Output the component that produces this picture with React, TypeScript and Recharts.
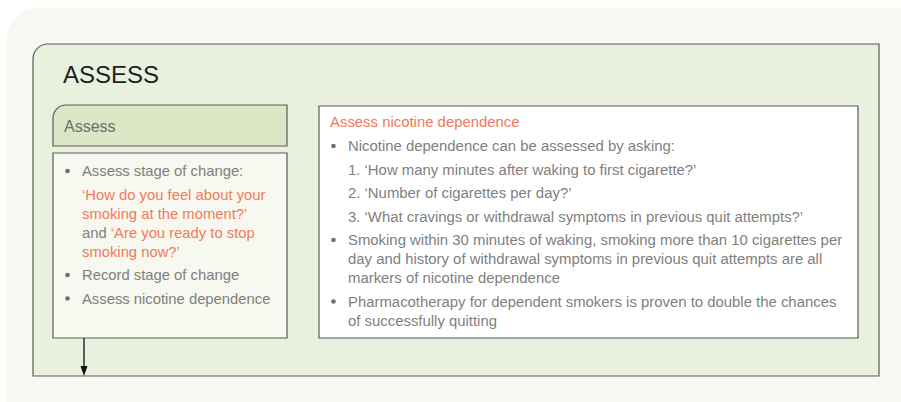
import { ComposedChart, XAxis, YAxis, Scatter, ReferenceArea } from "recharts";

const W = 901;
const H = 402;
const GREY = "#7f7f7f";
const RED = "#f4785c";
const FONT = "'Liberation Sans', Arial, sans-serif";

type Part = [string, "g" | "r"];
interface TextLine {
  parts: Part[];
  bullet?: boolean;
  gap?: boolean;
}

const title = "ASSESS";
const stepLabel = "Assess";

const stepLines: TextLine[] = [
  { bullet: true, parts: [["Assess stage of change:", "g"]] },
  { gap: true, parts: [["‘How do you feel about your", "r"]] },
  { parts: [["smoking at the moment?’", "r"]] },
  { parts: [["and ", "g"], ["‘Are you ready to stop", "r"]] },
  { parts: [["smoking now?’", "r"]] },
  { bullet: true, gap: true, parts: [["Record stage of change", "g"]] },
  { bullet: true, gap: true, parts: [["Assess nicotine dependence", "g"]] },
];

const detailLines: TextLine[] = [
  { parts: [["Assess nicotine dependence", "r"]] },
  { bullet: true, gap: true, parts: [["Nicotine dependence can be assessed by asking:", "g"]] },
  { gap: true, parts: [["1. ‘How many minutes after waking to first cigarette?’", "g"]] },
  { gap: true, parts: [["2. ‘Number of cigarettes per day?’", "g"]] },
  { gap: true, parts: [["3. ‘What cravings or withdrawal symptoms in previous quit attempts?’", "g"]] },
  { bullet: true, gap: true, parts: [["Smoking within 30 minutes of waking, smoking more than 10 cigarettes per", "g"]] },
  { parts: [["day and history of withdrawal symptoms in previous quit attempts are all", "g"]] },
  { parts: [["markers of nicotine dependence", "g"]] },
  { bullet: true, gap: true, parts: [["Pharmacotherapy for dependent smokers is proven to double the chances", "g"]] },
  { parts: [["of successfully quitting", "g"]] },
];

// place lines: 19px line height, extra space before a new paragraph
function layout(lines: TextLine[], x0: number, y0: number, size: number) {
  let y = y0;
  return lines.map((l, i) => {
    if (i > 0) y += l.gap ? 23.5 : 19;
    return { x: x0, y, size, ...l };
  });
}

const leftPoints = layout(stepLines, 82, 176, 14.8);
const rightPoints = [
  ...layout(detailLines.slice(0, 1), 330, 127, 14.9),
  ...layout(detailLines.slice(1), 348, 151, 14.9),
];
const titlePoints = [
  { x: 63, y: 83, size: 24, color: "#1e1e1e", parts: [[title, "g"]] as Part[] },
  { x: 64, y: 132, size: 16, color: "#6d6d6d", parts: [[stepLabel, "g"]] as Part[] },
];

function roundTL(x: number, y: number, w: number, h: number, r: number) {
  return `M${x},${y + h} L${x},${y + r} A${r},${r} 0 0 1 ${x + r},${y} L${x + w},${y} L${x + w},${y + h} Z`;
}

const TextShape = (props: any) => {
  const { cx, cy, payload } = props;
  const p = payload;
  return (
    <g>
      {p.bullet && <circle cx={cx - 14.5} cy={cy - 5} r={2.3} fill="#6f6f6f" />}
      <text x={cx} y={cy} fontSize={p.size} fontFamily={FONT}>
        {p.parts.map((pt: Part, i: number) => (
          <tspan key={i} fill={p.color ?? (pt[1] === "r" ? RED : GREY)}>
            {pt[0]}
          </tspan>
        ))}
      </text>
    </g>
  );
};

const boxShape =
  (fill: string, stroke: string, r: number) =>
  (props: any) => {
    const { x, y, width, height } = props;
    return (
      <path
        d={r > 0 ? roundTL(x, y, width, height, r) : `M${x},${y}h${width}v${height}h${-width}Z`}
        fill={fill}
        stroke={stroke}
        strokeWidth={stroke === "none" ? 0 : 1.2}
      />
    );
  };

const ArrowShape = (props: any) => {
  const { x, y, width, height } = props;
  const cx = x + width / 2;
  const y2 = y + height;
  return (
    <g>
      <line x1={cx} y1={y} x2={cx} y2={y2 - 6} stroke="#111" strokeWidth={1.3} />
      <path d={`M${cx - 3.5},${y2 - 10} L${cx + 3.5},${y2 - 10} L${cx},${y2} Z`} fill="#111" />
    </g>
  );
};

export default function App() {
  return (
    <div style={{ position: "absolute", left: 0, top: 0, width: W, height: H, background: "#fff" }}>
      <ComposedChart width={W} height={H} margin={{ top: 0, right: 0, bottom: 0, left: 0 }}>
        <XAxis type="number" dataKey="x" domain={[0, W]} allowDataOverflow hide />
        <YAxis type="number" dataKey="y" domain={[0, H]} reversed allowDataOverflow hide />
        <ReferenceArea x1={7} x2={W} y1={8} y2={H} shape={boxShape("#f7f8f1", "none", 30)} ifOverflow="visible" />
        <ReferenceArea x1={33} x2={879} y1={44} y2={376} shape={boxShape("#e9f0de", "#5a5a5a", 15)} ifOverflow="visible" />
        <ReferenceArea x1={53} x2={287} y1={105} y2={146} shape={boxShape("#dbe6c5", "#5a5a5a", 13)} ifOverflow="visible" />
        <ReferenceArea x1={53} x2={287} y1={153} y2={338} shape={boxShape("#f7f8f0", "#5a5a5a", 0)} ifOverflow="visible" />
        <ReferenceArea x1={319} x2={858} y1={106} y2={338} shape={boxShape("#ffffff", "#5a5a5a", 0)} ifOverflow="visible" />
        <ReferenceArea x1={80} x2={88} y1={338} y2={376} shape={ArrowShape} ifOverflow="visible" />
        <Scatter data={titlePoints} dataKey="y" shape={TextShape} isAnimationActive={false} />
        <Scatter data={leftPoints} dataKey="y" shape={TextShape} isAnimationActive={false} />
        <Scatter data={rightPoints} dataKey="y" shape={TextShape} isAnimationActive={false} />
      </ComposedChart>
    </div>
  );
}
